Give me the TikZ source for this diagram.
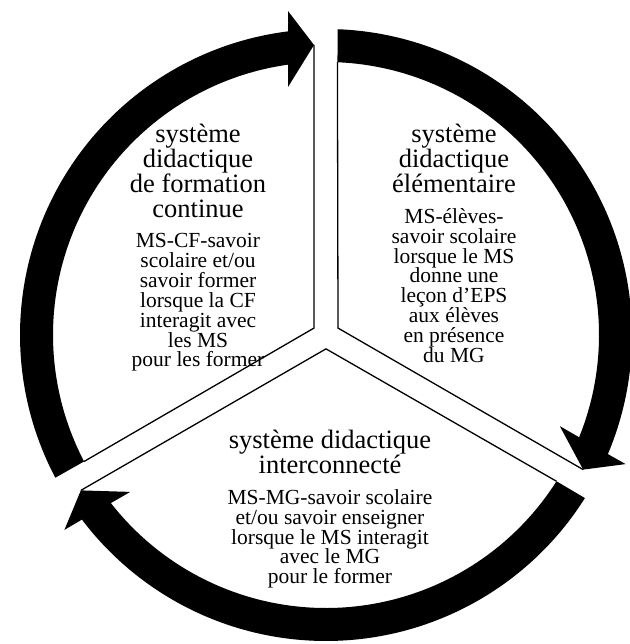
\documentclass[tikz,border=0pt]{standalone}
\usepackage{fontspec}
\setmainfont{Liberation Serif}
\usetikzlibrary{positioning}

\begin{document}
\begin{tikzpicture}[
    x=1pt, y=1pt,
    titletext/.style={align=center, inner sep=0pt, font=\fontsize{26.5}{25}\selectfont},
    bodytext/.style={align=center, inner sep=0pt, font=\fontsize{21.5}{19.9}\selectfont},
    sepline/.style={draw=black, line width=1.3pt, line join=miter},
    pics/ringarrow/.style={code={
        \fill[black] (207.6:273) -- (207.8:306) arc[start angle=207.8, end angle=97.1, radius=306]
            -- (-38,324) -- (-12,290) -- (-38,248) -- (98.0:273)
            arc[start angle=98.0, end angle=207.6, radius=273] -- cycle;
        \draw[sepline] (-12,290) -- (150:13.86) -- (207.6:273);
    }}
]
    \useasboundingbox (-326,-309) rectangle (303,335);

    % the three arrows of the cycle
    \pic {ringarrow};
    \pic[rotate=-120] {ringarrow};
    \pic[rotate=-240] {ringarrow};

    % formation continue
    \node [titletext, anchor=north] (tCF) at (-128,211) {système\\didactique\\de formation\\continue};
    \node [bodytext, below=15pt of tCF] (bCF) {MS-CF-savoir\\scolaire et/ou\\savoir former\\lorsque la CF\\interagit avec\\les MS\\pour les former};

    % élémentaire
    \node [titletext, anchor=north] (tEL) at (128,211) {système\\didactique\\élémentaire};
    \node [bodytext, below=15pt of tEL] (bEL) {MS-élèves-\\savoir scolaire\\lorsque le MS\\donne une\\leçon d’EPS\\aux élèves\\en présence\\du MG};

    % interconnecté
    \node [titletext, anchor=north] (tIC) at (4,-95) {système didactique\\interconnecté};
    \node [bodytext, below=15pt of tIC] (bIC) {MS-MG-savoir scolaire\\et/ou savoir enseigner\\lorsque le MS interagit\\avec le MG\\pour le former};
\end{tikzpicture}
\end{document}
